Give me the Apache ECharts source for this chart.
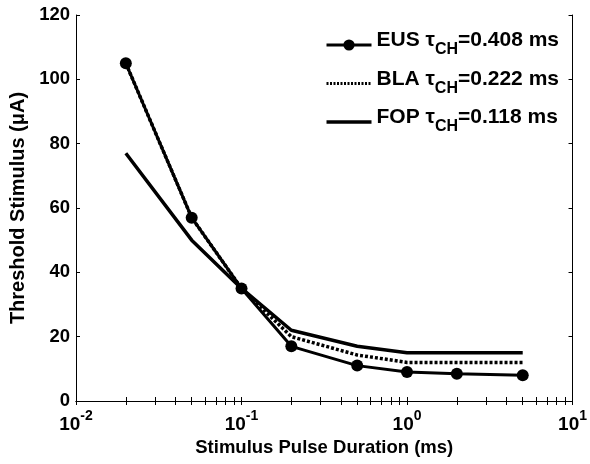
<!DOCTYPE html>
<html><head><meta charset="utf-8">
<script src="https://cdn.jsdelivr.net/npm/echarts@6/dist/echarts.min.js"></script>
<style>html,body{margin:0;padding:0;background:#fff}#c{width:590px;height:464px}</style>
</head><body><div id="c"></div>
<script>
var durations = [0.02, 0.05, 0.1, 0.2, 0.5, 1, 2, 5];
var eus = [105, 57, 35, 17, 11, 9, 8.5, 8];
var bla = [105, 57, 35, 20, 14.3, 12, 12, 12];
var fop = [77, 50, 35, 22, 17, 15, 15, 15];
var seriesNames = ['EUS', 'BLA', 'FOP'];
var tauLabels = ['0.408', '0.222', '0.118'];
var yTicks = [0, 20, 40, 60, 80, 100, 120];
var decadeExps = [-2, -1, 0, 1];

var minorVals = [];
decadeExps.forEach(function (e) {
  for (var k = 1; k <= 9; k++) {
    var v = k * Math.pow(10, e);
    if (v <= 10 + 1e-9) minorVals.push(+v.toPrecision(3));
  }
});
var font = '"Liberation Sans", Arial, sans-serif';
function zipData(arr) { return durations.map(function (d, i) { return [d, arr[i]]; }); }

var chart = echarts.init(document.getElementById('c'), null, {renderer: 'canvas'});
var axisLineStyle = {color: '#000', width: 1};
chart.setOption({
  animation: false,
  backgroundColor: '#fff',
  textStyle: {fontFamily: font},
  grid: {left: 76, right: 15, top: 15, bottom: 63, containLabel: false},
  legend: {
    orient: 'vertical',
    right: 26, top: 25,
    itemWidth: 45, itemHeight: 14, itemGap: 10.5,
    data: [
      {name: 'EUS', lineStyle: {width: 3}},
      {name: 'BLA', itemStyle: {opacity: 0}, lineStyle: {width: 3, type: [2, 1.5]}},
      {name: 'FOP', itemStyle: {opacity: 0}, lineStyle: {width: 3.5}}
    ],
    formatter: function (name) {
      var i = seriesNames.indexOf(name);
      return '{t|' + name + ' \u03c4}{s|CH}{t|=' + tauLabels[i] + ' ms}';
    },
    textStyle: {
      color: '#000', fontFamily: font,
      rich: {
        t: {fontSize: 21, fontWeight: 'bold', color: '#000', fontFamily: font, lineHeight: 26, verticalAlign: 'bottom', padding: [0,0,7,0]},
        s: {fontSize: 16, fontWeight: 'bold', color: '#000', fontFamily: font, lineHeight: 18, verticalAlign: 'bottom'}
      }
    }
  },
  xAxis: [{
    type: 'log', logBase: 10, min: 0.01, max: 10,
    position: 'bottom',
    name: 'Stimulus Pulse Duration (ms)', nameLocation: 'middle', nameGap: 37,
    nameTextStyle: {fontSize: 18.5, fontWeight: 'bold', color: '#000', fontFamily: font},
    axisLine: {lineStyle: axisLineStyle},
    axisTick: {inside: true, length: 4, lineStyle: {color: '#000'}, customValues: minorVals},
    minorTick: {show: false},
    splitLine: {show: false},
    axisLabel: {
      color: '#000', margin: 11,
      customValues: decadeExps.map(function (e) { return Math.pow(10, e); }),
      formatter: function (v) {
        var e = Math.round(Math.log(v) / Math.LN10);
        return '{b|10}{p|' + e + '}';
      },
      rich: {
        b: {fontSize: 19, fontWeight: 'bold', color: '#000', fontFamily: font, lineHeight: 22, verticalAlign: 'bottom'},
        p: {fontSize: 14, fontWeight: 'bold', color: '#000', fontFamily: font, lineHeight: 22, verticalAlign: 'bottom', padding: [0,0,11,0]}
      }
    }
  }, {
    type: 'log', logBase: 10, min: 0.01, max: 10,
    position: 'top',
    axisLine: {show: true, lineStyle: axisLineStyle},
    axisTick: {show: true, inside: true, length: 4, lineStyle: {color: '#000'}, customValues: minorVals},
    axisLabel: {show: false},
    splitLine: {show: false}
  }],
  yAxis: [{
    type: 'value', min: 0, max: 120, interval: 20,
    name: 'Threshold Stimulus (\u03bcA)', nameLocation: 'middle', nameGap: 42, nameRotate: 90,
    nameTextStyle: {fontSize: 20, fontWeight: 'bold', color: '#000', fontFamily: font},
    axisLine: {show: true, lineStyle: axisLineStyle},
    axisTick: {show: true, inside: true, length: 4, lineStyle: {color: '#000'}},
    axisLabel: {color: '#000', fontSize: 18.5, fontWeight: 'bold', fontFamily: font, margin: 6,
      customValues: yTicks},
    splitLine: {show: false}
  }, {
    type: 'value', min: 0, max: 120, interval: 20,
    position: 'right',
    axisLine: {show: true, lineStyle: axisLineStyle},
    axisTick: {show: true, inside: true, length: 4, lineStyle: {color: '#000'}},
    axisLabel: {show: false},
    splitLine: {show: false}
  }],
  series: [{
    name: 'FOP', type: 'line', data: zipData(fop), z: 2,
    symbol: 'none', color: '#000',
    lineStyle: {color: '#000', width: 3.5}
  }, {
    name: 'BLA', type: 'line', data: zipData(bla), z: 3,
    symbol: 'none', color: '#000',
    lineStyle: {color: '#000', width: 3.5, type: [3, 2]}
  }, {
    name: 'EUS', type: 'line', data: zipData(eus), z: 4,
    symbol: 'circle', symbolSize: 12, showSymbol: true, color: '#000',
    itemStyle: {color: '#000'},
    lineStyle: {color: '#000', width: 3}
  }]
});
</script></body></html>
